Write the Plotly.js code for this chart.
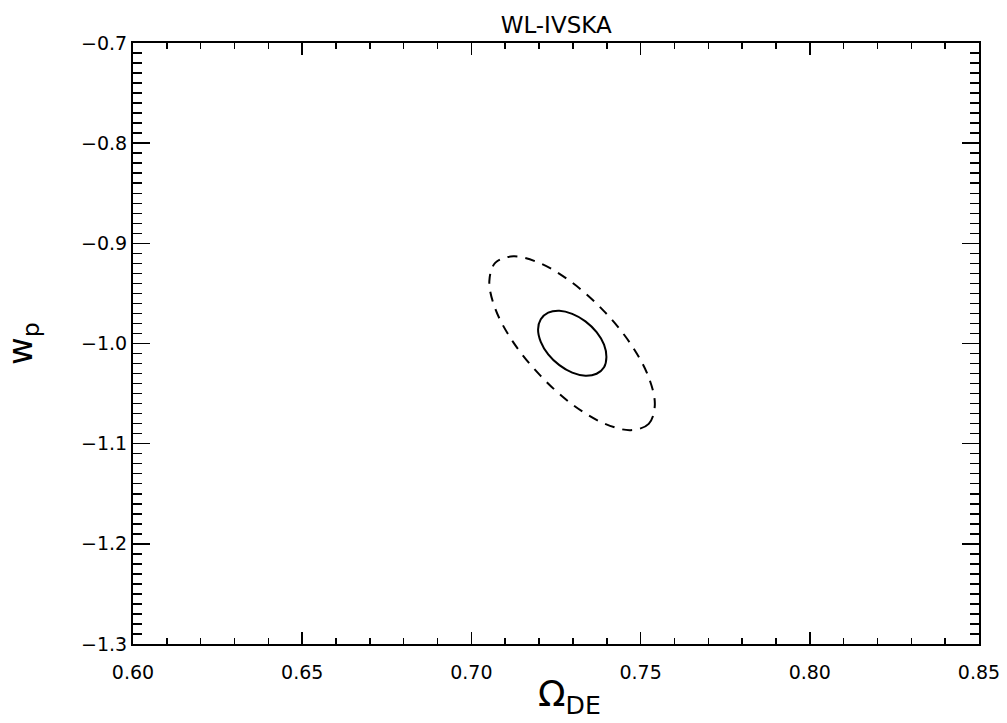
<!DOCTYPE html>
<html>
<head>
<meta charset="utf-8">
<script src="https://cdn.plot.ly/plotly-3.0.1.min.js"></script>
<style>
  html, body { margin: 0; padding: 0; background: #ffffff; }
  #chart { width: 1007px; height: 723px; }
</style>
</head>
<body>
<div id="chart"></div>
<script>
// Outer (dashed) contour (Omega_DE, w_p)
const outerOmega = [0.7542, 0.7524, 0.7471, 0.7391, 0.7297, 0.7204, 0.7124, 0.7071, 0.7053, 0.7071, 0.7124, 0.7204, 0.7297, 0.7391, 0.7471, 0.7524, 0.7542];
const outerW     = [-1.0618, -1.0802, -1.0865, -1.0796, -1.0605, -1.0321, -0.9989, -0.9657, -0.9377, -0.9193, -0.9130, -0.9200, -0.9390, -0.9674, -1.0006, -1.0338, -1.0618];

// Inner (solid) contour
const innerOmega = [0.7399, 0.7392, 0.7370, 0.7337, 0.7298, 0.7260, 0.7227, 0.7205, 0.7197, 0.7205, 0.7227, 0.7260, 0.7298, 0.7337, 0.7370, 0.7392, 0.7399];
const innerW     = [-1.0135, -1.0237, -1.0302, -1.0322, -1.0291, -1.0216, -1.0108, -0.9983, -0.9860, -0.9758, -0.9692, -0.9673, -0.9704, -0.9779, -0.9887, -1.0012, -1.0135];

const xTickVals = [0.60, 0.65, 0.70, 0.75, 0.80, 0.85];
const yTickVals = [-1.3, -1.2, -1.1, -1.0, -0.9, -0.8, -0.7];

const titleText = "WL-IVSKA";
const xTitleText = "Ω<sub>DE</sub>";
const yTitleText = "w<sub>p</sub>";

const FONT = "DejaVu Sans, Liberation Sans, sans-serif";

const traces = [
  {
    x: outerOmega, y: outerW, type: "scatter", mode: "lines",
    line: { color: "#000000", width: 2, dash: "10px,8px", shape: "spline", smoothing: 1 },
    hoverinfo: "skip", showlegend: false
  },
  {
    x: innerOmega, y: innerW, type: "scatter", mode: "lines",
    line: { color: "#000000", width: 2, shape: "spline", smoothing: 1 },
    hoverinfo: "skip", showlegend: false
  }
];

const layout = {
  width: 1007, height: 723,
  margin: { l: 133, r: 28, t: 43, b: 79, pad: 0 },
  paper_bgcolor: "#ffffff", plot_bgcolor: "#ffffff",
  font: { family: FONT, color: "#000000", size: 19 },
  title: {
    text: titleText, font: { family: FONT, size: 23, color: "#000000" },
    x: 0.5523, xanchor: "center", y: 0.966, yanchor: "middle"
  },
  xaxis: {
    range: [0.60, 0.85], tickmode: "array", tickvals: xTickVals, tickformat: ".2f",
    ticks: "inside", ticklen: 12, tickwidth: 1.5, tickcolor: "#000000",
    minor: { dtick: 0.01, tick0: 0.60, ticks: "inside", ticklen: 6, tickwidth: 1.5, tickcolor: "#000000", showgrid: false },
    showline: true, linecolor: "#000000", linewidth: 2, mirror: "allticks",
    showgrid: false, zeroline: false, ticklabelstandoff: 10,
    tickfont: { family: FONT, size: 19, color: "#000000" }
  },
  yaxis: {
    range: [-1.3, -0.7], tickmode: "array", tickvals: yTickVals, tickformat: ".1f",
    ticks: "inside", ticklen: 17, tickwidth: 1.5, tickcolor: "#000000",
    minor: { dtick: 0.01, tick0: -1.3, ticks: "inside", ticklen: 9, tickwidth: 1.5, tickcolor: "#000000", showgrid: false },
    showline: true, linecolor: "#000000", linewidth: 2, mirror: "allticks",
    showgrid: false, zeroline: false,
    tickfont: { family: FONT, size: 19, color: "#000000" },
    title: { text: yTitleText, font: { family: FONT, size: 34, color: "#000000" }, standoff: 42 }
  },
  annotations: [
    {
      text: xTitleText, xref: "paper", yref: "paper",
      x: 0.5154, y: -0.088, xanchor: "center", yanchor: "middle",
      showarrow: false, font: { family: FONT, size: 36, color: "#000000" }
    }
  ]
};

Plotly.newPlot("chart", traces, layout, { staticPlot: true, displayModeBar: false });
</script>
</body>
</html>
